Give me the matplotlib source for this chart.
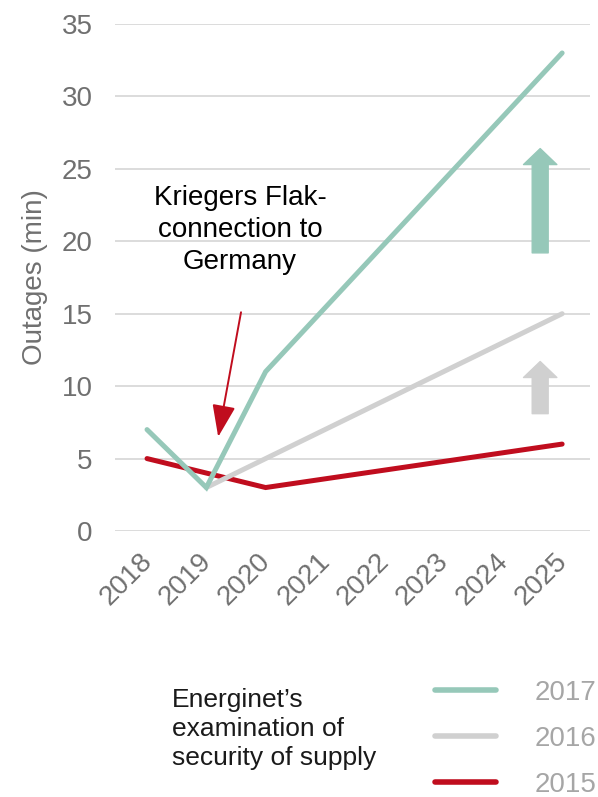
import matplotlib
matplotlib.use("Agg")
import matplotlib.pyplot as plt
import matplotlib.transforms as mtransforms

plt.rcParams['font.family'] = ['Liberation Sans', 'DejaVu Sans']

years = ["2018", "2019", "2020", "2021", "2022", "2023", "2024", "2025"]
s2017 = [7, 3, 11, 15.4, 19.8, 24.2, 28.6, 33]
s2016 = [None, 3, 5, 7, 9, 11, 13, 15]
s2015 = [5, 4, 3, 3.6, 4.2, 4.8, 5.4, 6]
series_labels = ["2017", "2016", "2015"]

c_teal = "#96c8b9"
c_grey = "#d0d0d0"
c_red = "#c00d1e"
tick_col = "#707070"

fig = plt.figure(figsize=(5.98, 7.97), dpi=100)
ax = fig.add_axes([115/598, (797-531)/797, (590-115)/598, 507/797])

x = list(range(len(years)))
def xy(vals):
    pts = [(i, v) for i, v in zip(x, vals) if v is not None]
    return [p[0] for p in pts], [p[1] for p in pts]

l15, = ax.plot(*xy(s2015), color=c_red, lw=3.6, solid_capstyle='round', solid_joinstyle='miter', zorder=3)
l16, = ax.plot(*xy(s2016), color=c_grey, lw=3.6, solid_capstyle='round', solid_joinstyle='miter', zorder=3)
l17, = ax.plot(*xy(s2017), color=c_teal, lw=3.6, solid_capstyle='round', solid_joinstyle='miter', zorder=4)

ax.set_xlim(-0.54, 7.47)
ax.set_ylim(0, 35)
ax.set_yticks(range(0, 36, 5))
ax.set_xticks(x)
ax.set_xticklabels(years, rotation=45, ha='right', va='top', rotation_mode='anchor')
ax.tick_params(axis='both', length=0, labelsize=20, labelcolor=tick_col)
ax.tick_params(axis='y', pad=16)
ax.tick_params(axis='x', pad=8)
offset = mtransforms.ScaledTranslation(-8/100, -6/100, fig.dpi_scale_trans)
for lab in ax.get_xticklabels():
    lab.set_transform(lab.get_transform() + offset)
for sp in ax.spines.values():
    sp.set_visible(False)
ax.grid(axis='y', color='#d9d9d9', lw=1.3)
ax.set_axisbelow(True)
ax.set_ylabel("Outages (min)", fontsize=20, color=tick_col)
ax.yaxis.set_label_coords(-0.141, 0.50)

# block arrows
ax.annotate('', xy=(6.63, 26.4), xytext=(6.63, 19.2),
            arrowprops=dict(arrowstyle='simple,head_length=1.15,head_width=2.4,tail_width=1.15',
                            color=c_teal, shrinkA=0, shrinkB=0, mutation_scale=10))
ax.annotate('', xy=(6.63, 11.7), xytext=(6.63, 8.1),
            arrowprops=dict(arrowstyle='simple,head_length=1.15,head_width=2.4,tail_width=1.15',
                            color=c_grey, shrinkA=0, shrinkB=0, mutation_scale=10))

# annotation
ax.text(1.57, 20.8, "Kriegers Flak-\nconnection to\nGermany", ha='center', va='center',
        fontsize=20, color='black', linespacing=1.3)
ax.annotate('', xy=(1.20, 6.5), xytext=(1.585, 15.1),
            arrowprops=dict(arrowstyle='-|>,head_length=1.1,head_width=0.4', color=c_red,
                            lw=1.4, shrinkA=0, shrinkB=0, mutation_scale=18))

# legend
fig.text(172/598, 1 - 729/797, "Energinet\u2019s\nexamination of\nsecurity of supply",
         ha='left', va='center', fontsize=19, color='#1a1a1a', linespacing=1.25)
leg = fig.legend([l17, l16, l15], series_labels, loc='center left',
                 bbox_to_anchor=(410/598, 1 - 739/797), frameon=False, fontsize=20,
                 labelcolor='#a6a6a6', handlelength=2.2, handletextpad=1.4,
                 labelspacing=0.72)
for h in leg.get_lines():
    h.set_linewidth(4)

fig.savefig("out.png", dpi=100)
